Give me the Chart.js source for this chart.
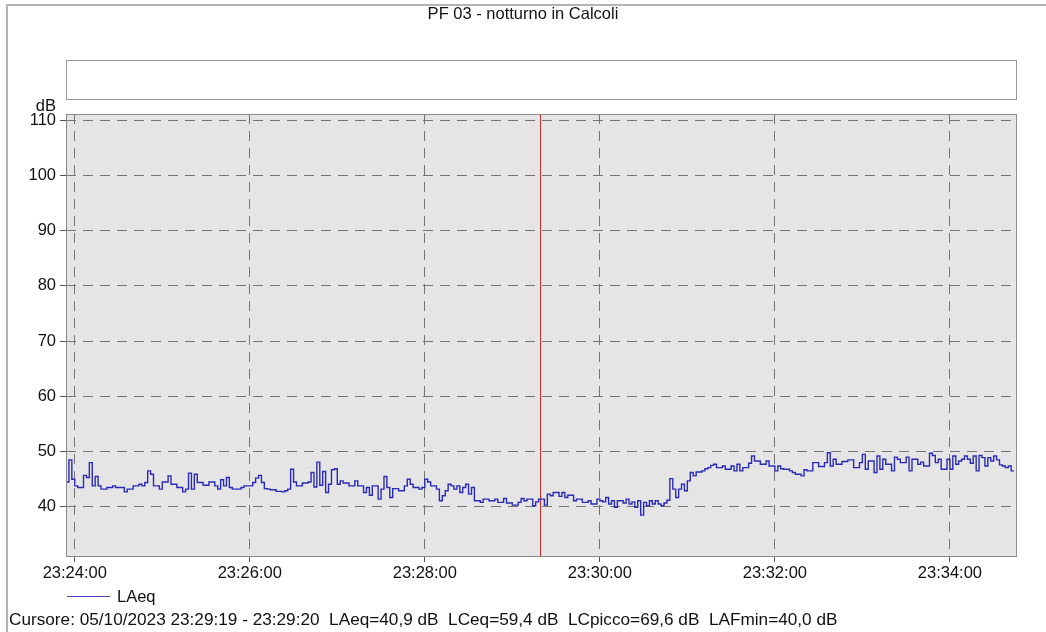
<!DOCTYPE html>
<html lang="it">
<head>
<meta charset="utf-8">
<title>PF 03 - notturno in Calcoli</title>
<script src="https://cdn.jsdelivr.net/npm/chart.js@4/dist/chart.umd.min.js"></script>
<style>
  html, body { margin: 0; padding: 0; background: #fff; }
  canvas { display: block; }
</style>
</head>
<body>
<canvas id="grafico" width="1046" height="632"></canvas>
<script>
const titolo = "PF 03 - notturno in Calcoli";
const unita = "dB";
const nomeSerie = "LAeq";
const testoCursore = "Cursore: 05/10/2023 23:29:19 - 23:29:20  LAeq=40,9 dB  LCeq=59,4 dB  LCpicco=69,6 dB  LAFmin=40,0 dB";

// asse tempi
const inizioAsse = "23:23:54";
const fineAsse = "23:34:46";
const tickTempi = ["23:24:00", "23:26:00", "23:28:00", "23:30:00", "23:32:00", "23:34:00"];
const tickLivelli = [40, 50, 60, 70, 80, 90, 100, 110];
const minLivello = 31.1;
const maxLivello = 111.1;
const tempoCursore = "23:29:19";

// LAeq campionato ogni 2 s a partire da inizioMisura
const inizioMisura = "23:23:54";
const passoSecondi = 2;
const laeq = [
  44.5, 44.5, 48.5,
  45.0, 43.8, 43.5, 43.5, 45.7, 45.3, 48.0, 43.8, 45.5, 43.8,
  43.2, 43.2, 43.5, 43.5, 43.8, 43.5, 43.5, 43.5, 42.7, 43.2,
  43.2, 43.8, 43.8, 44.1, 43.8, 44.4, 46.5, 45.9, 43.8, 43.8,
  43.2, 44.5, 44.5, 45.6, 44.1, 44.1, 43.5, 43.5, 42.7, 43.2,
  46.1, 43.2, 45.9, 44.4, 44.4, 43.9, 43.9, 44.5, 44.5, 43.8,
  43.2, 44.9, 43.8, 45.3, 43.5, 43.2, 43.2,
  43.2, 43.5, 43.8, 43.8, 43.8, 44.4, 45.2, 45.7, 44.4, 43.3,
  43.2, 43.1, 43.1, 42.8, 42.8, 42.7, 42.9, 43.2, 46.8, 44.5,
  43.8, 43.8, 44.3, 44.3, 44.5, 46.2, 43.6, 48.1, 43.9, 46.4,
  42.6, 44.1, 46.7, 46.9, 44.1, 44.7, 44.3, 44.3, 43.8, 43.8,
  44.7, 43.8, 43.8, 42.6, 43.5, 42.1, 43.8, 43.8, 41.4, 43.2,
  45.5, 43.5, 41.7, 43.3, 43.3, 42.9, 42.9, 43.8, 45.0, 44.1,
  43.5, 43.5,
  43.2, 43.5, 45.0, 44.5, 43.8, 43.8, 43.2, 41.1, 42.0, 42.9,
  44.1, 43.8, 43.2, 43.8, 42.6, 43.5, 44.1, 42.3, 43.5, 41.1,
  41.1, 40.8, 41.4, 41.4, 41.1, 41.1, 41.4, 40.8, 40.8, 41.5,
  40.7, 40.7, 40.3, 40.3, 40.8, 41.5, 41.1, 41.4, 41.4, 40.2,
  40.9, 41.4, 41.4, 40.3, 42.3, 42.0, 42.6, 42.6, 41.9, 42.6,
  41.7, 42.1, 42.1, 41.1, 41.4, 41.4, 40.8, 40.8, 41.1, 40.5,
  40.5,
  41.4, 41.1, 40.9, 41.7, 40.5, 41.1, 39.9, 41.1, 41.1, 40.7,
  41.4, 40.5, 40.9, 39.9, 41.1, 38.5, 40.8, 40.2, 41.1, 40.5,
  41.1, 40.5, 40.2, 40.7, 41.2, 45.1, 43.2, 41.7, 43.2, 44.1,
  42.9, 44.7, 46.2, 45.6, 46.3, 46.3, 46.5, 46.9, 47.1, 47.5,
  47.7, 47.1, 47.1, 47.4, 46.8, 46.8, 47.4, 46.5, 47.7, 46.5,
  47.1, 47.1, 47.9, 49.2, 48.3, 48.3, 47.7, 47.7, 48.3, 47.4,
  47.4, 46.5,
  47.4, 46.9, 46.8, 46.8, 46.5, 46.2, 45.9, 45.9, 45.6, 46.7,
  46.5, 46.5, 48.0, 48.0, 47.3, 47.3, 48.0, 49.8, 47.4, 48.6,
  47.7, 47.7, 48.2, 48.2, 48.5, 48.5, 47.1, 47.1, 48.0, 49.5,
  46.8, 48.3, 48.3, 46.2, 49.2, 46.8, 48.6, 47.7, 47.7, 46.5,
  49.0, 48.6, 48.0, 48.0, 49.0, 46.5, 48.6, 48.6, 47.7, 48.1,
  47.4, 47.4, 49.7, 49.3, 48.0, 48.6, 46.8, 46.8, 48.6, 46.8,
  49.2, 47.7,
  48.3, 48.6, 49.2, 48.6, 47.9, 49.2, 46.5, 49.3, 48.9, 47.4,
  48.9, 48.3, 49.2, 48.5, 47.6, 47.4, 47.1, 47.4, 46.5
];

const FONT = "'Liberation Sans', Arial, Helvetica, sans-serif";
const BLU = "#2a2ab8";

function secondi(hms) {
  const p = hms.split(":").map(Number);
  return p[0] * 3600 + p[1] * 60 + p[2];
}
function hms(sec) {
  const h = Math.floor(sec / 3600);
  const m = Math.floor((sec % 3600) / 60);
  const s = Math.round(sec % 60);
  return [h, m, s].map((n) => String(n).padStart(2, "0")).join(":");
}

const t0 = secondi(inizioMisura);
const punti = laeq.map((v, i) => ({ x: t0 + i * passoSecondi, y: v }));

// sfondo, cornice esterna e area grafico grigia
const sfondo = {
  id: "sfondo",
  beforeDraw(chart) {
    const { ctx, chartArea: a } = chart;
    ctx.save();
    ctx.fillStyle = "#fff";
    ctx.fillRect(0, 0, chart.width, chart.height);
    ctx.strokeStyle = "#b4b4b4";
    ctx.lineWidth = 2;
    ctx.beginPath();
    ctx.moveTo(7, chart.height);
    ctx.lineTo(7, 5);
    ctx.lineTo(chart.width, 5);
    ctx.stroke();
    ctx.fillStyle = "#e5e5e5";
    ctx.fillRect(a.left, a.top, a.right - a.left, a.bottom - a.top);
    ctx.restore();
  },
  beforeDatasetsDraw(chart) {
    // linea del cursore
    const { ctx, chartArea: a } = chart;
    const x = Math.round(chart.scales.x.getPixelForValue(secondi(tempoCursore))) + 0.5;
    ctx.save();
    ctx.strokeStyle = "#d02828";
    ctx.lineWidth = 1;
    ctx.beginPath();
    ctx.moveTo(x, a.top);
    ctx.lineTo(x, a.bottom);
    ctx.stroke();
    ctx.restore();
  }
};

// titolo, riquadro vuoto, unità, legenda e riga del cursore
const decorazioni = {
  id: "decorazioni",
  afterDraw(chart) {
    const { ctx, chartArea: a } = chart;
    ctx.save();
    ctx.fillStyle = "#111";
    ctx.font = "16.5px " + FONT;
    ctx.textAlign = "center";
    ctx.textBaseline = "middle";
    ctx.fillText(titolo, chart.width / 2, 14);

    ctx.fillStyle = "#fff";
    ctx.fillRect(a.left, 60, a.right - a.left, 39);
    ctx.strokeStyle = "#9a9a9a";
    ctx.lineWidth = 1;
    ctx.strokeRect(a.left + 0.5, 60.5, a.right - a.left - 1, 39);

    ctx.strokeStyle = "#8a8a8a";
    ctx.strokeRect(a.left + 0.5, a.top + 0.5, a.right - a.left - 1, a.bottom - a.top);

    ctx.fillStyle = "#111";
    ctx.textAlign = "right";
    ctx.fillText(unita, 56, 106);

    ctx.strokeStyle = "#4a4ac4";
    ctx.beginPath();
    ctx.moveTo(67, 596.5);
    ctx.lineTo(110, 596.5);
    ctx.stroke();
    ctx.textAlign = "left";
    ctx.fillText(nomeSerie, 117, 597);

    ctx.font = "17.2px " + FONT;
    ctx.fillText(testoCursore, 9, 620);
    ctx.restore();
  }
};

new Chart(document.getElementById("grafico").getContext("2d"), {
  type: "line",
  data: {
    datasets: [
      {
        label: nomeSerie,
        data: punti,
        stepped: "after",
        borderColor: BLU,
        borderWidth: 1.4,
        pointRadius: 0,
        fill: false
      }
    ]
  },
  options: {
    responsive: false,
    animation: false,
    devicePixelRatio: 1,
    layout: { padding: { top: 114, right: 29, bottom: 46, left: 0 } },
    plugins: {
      legend: { display: false },
      title: { display: false },
      tooltip: { enabled: false }
    },
    scales: {
      x: {
        type: "linear",
        min: secondi(inizioAsse),
        max: secondi(fineAsse),
        afterBuildTicks: (scale) => {
          scale.ticks = tickTempi.map((s) => ({ value: secondi(s) }));
        },
        afterFit: (scale) => {
          scale.height = 30;
        },
        ticks: {
          color: "#111",
          font: { family: FONT, size: 16.5 },
          padding: 2,
          maxRotation: 0,
          autoSkip: false,
          callback: (v) => hms(v)
        },
        grid: {
          color: "#747474",
          lineWidth: 1,
          tickLength: 6,
          tickColor: "#555",
          tickBorderDash: []
        },
        border: { display: false, dash: [10, 7] }
      },
      y: {
        min: minLivello,
        max: maxLivello,
        afterBuildTicks: (scale) => {
          scale.ticks = tickLivelli.map((v) => ({ value: v }));
        },
        afterFit: (scale) => {
          scale.width = 66;
        },
        ticks: {
          color: "#111",
          font: { family: FONT, size: 16.5 },
          padding: 4
        },
        grid: {
          color: "#747474",
          lineWidth: 1,
          tickLength: 6,
          tickColor: "#555",
          tickBorderDash: []
        },
        border: { display: false, dash: [10, 7] }
      }
    }
  },
  plugins: [sfondo, decorazioni]
});
</script>
</body>
</html>
